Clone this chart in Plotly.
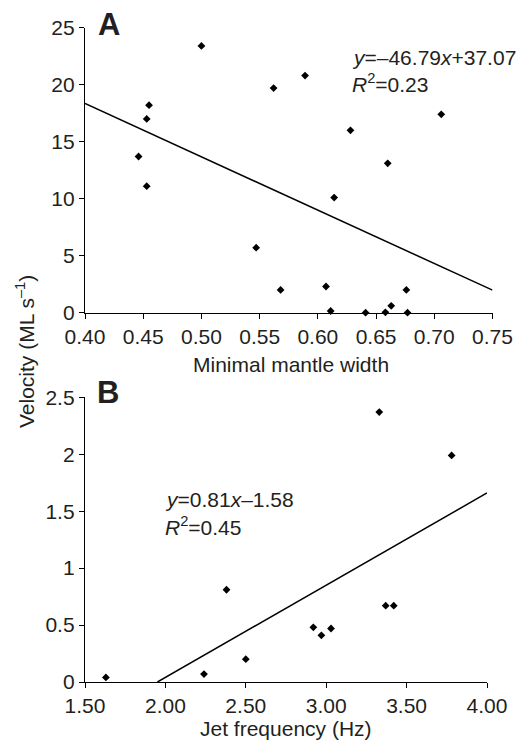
import plotly.graph_objects as go

# ---- Panel A: minimal mantle width vs. swimming velocity ----
mantle_width = [0.446, 0.453, 0.455, 0.453, 0.500, 0.547, 0.562, 0.568, 0.589, 0.607,
                0.611, 0.614, 0.628, 0.660, 0.706, 0.641, 0.658, 0.663, 0.676, 0.677]
velocity_a = [13.7, 17.0, 18.2, 11.1, 23.4, 5.7, 19.7, 2.0, 20.8, 2.3,
              0.15, 10.1, 16.0, 13.1, 17.4, 0.0, 0.03, 0.6, 2.0, 0.0]
slope_a, intercept_a, r2_a = -46.79, 37.07, 0.23

# ---- Panel B: jet frequency vs. swimming velocity ----
jet_freq = [1.63, 2.24, 2.38, 2.50, 2.92, 2.97, 3.03, 3.33, 3.37, 3.42, 3.78]
velocity_b = [0.04, 0.07, 0.81, 0.20, 0.48, 0.41, 0.47, 2.37, 0.67, 0.67, 1.99]
slope_b, intercept_b, r2_b = 0.81, -1.58, 0.45

xrange_a = [0.40, 0.75]
yrange_a = [0, 25]
xrange_b = [1.50, 4.00]
yrange_b = [0, 2.5]

W, H = 521, 740
FONT = "Liberation Sans, Arial, sans-serif"
INK = "#231f20"


def px(x):
    return x / W


def py(y):
    return 1 - y / H


def fit_line(slope, intercept, xr, yr):
    x0 = xr[0]
    if slope * x0 + intercept < yr[0]:
        x0 = (yr[0] - intercept) / slope
    x1 = xr[1]
    return [x0, x1], [slope * x0 + intercept, slope * x1 + intercept]


fig = go.Figure()

marker = dict(symbol="diamond", size=6, color="black")

fig.add_trace(go.Scatter(x=mantle_width, y=velocity_a, mode="markers", marker=marker,
                         cliponaxis=False, xaxis="x", yaxis="y", showlegend=False))
lx, ly = fit_line(slope_a, intercept_a, xrange_a, yrange_a)
fig.add_trace(go.Scatter(x=lx, y=ly, mode="lines", line=dict(color="black", width=1.5),
                         xaxis="x", yaxis="y", showlegend=False))

fig.add_trace(go.Scatter(x=jet_freq, y=velocity_b, mode="markers", marker=marker,
                         cliponaxis=False, xaxis="x2", yaxis="y2", showlegend=False))
lx, ly = fit_line(slope_b, intercept_b, xrange_b, yrange_b)
fig.add_trace(go.Scatter(x=lx, y=ly, mode="lines", line=dict(color="black", width=1.5),
                         xaxis="x2", yaxis="y2", showlegend=False))

axis_common = dict(
    showline=True, linecolor="black", linewidth=1.3,
    ticks="outside", ticklen=5, tickwidth=1.3, tickcolor="black",
    showgrid=False, zeroline=False, mirror=False, automargin=False,
    tickfont=dict(family=FONT, size=21, color=INK),
    fixedrange=True,
)

fig.update_layout(
    width=W, height=H,
    margin=dict(l=0, r=0, t=0, b=0),
    paper_bgcolor="white", plot_bgcolor="white",
    font=dict(family=FONT, size=21, color=INK),
    xaxis=dict(domain=[px(85), px(492.5)], range=xrange_a, dtick=0.05, tick0=0.40,
               tickformat=".2f", anchor="y", **axis_common),
    yaxis=dict(domain=[py(312.7), py(27.7)], range=yrange_a, dtick=5, anchor="x",
               **axis_common),
    xaxis2=dict(domain=[px(85), px(487)], range=xrange_b, dtick=0.5, tick0=1.5,
                tickformat=".2f", anchor="y2", **axis_common),
    yaxis2=dict(domain=[py(682), py(397.3)], range=yrange_b, dtick=0.5, anchor="x2",
                **axis_common),
)

annotations = [
    dict(text="<b>A</b>", x=px(96), y=py(24), xanchor="left", yanchor="middle",
         font=dict(family=FONT, size=31, color=INK)),
    dict(text="<b>B</b>", x=px(95), y=py(392), xanchor="left", yanchor="middle",
         font=dict(family=FONT, size=31, color=INK)),
    dict(text=f"<i>y</i>=–{abs(slope_a):.2f}<i>x</i>+{intercept_a:.2f}",
         x=px(350), y=py(58), xanchor="left", yanchor="middle"),
    dict(text=f"<i>R</i><sup>2</sup>={r2_a:.2f}",
         x=px(350), y=py(83), xanchor="left", yanchor="middle"),
    dict(text=f"<i>y</i>={slope_b:.2f}<i>x</i>–{abs(intercept_b):.2f}",
         x=px(163), y=py(499), xanchor="left", yanchor="middle"),
    dict(text=f"<i>R</i><sup>2</sup>={r2_b:.2f}",
         x=px(163), y=py(526), xanchor="left", yanchor="middle"),
    # axis titles
    dict(text="Minimal mantle width", x=px(291), y=py(365),
         xanchor="center", yanchor="middle"),
    dict(text="Jet frequency (Hz)", x=px(286), y=py(728),
         xanchor="center", yanchor="middle"),
    dict(text="Velocity (ML s<sup>–1</sup>)", textangle=-90,
         x=px(25), y=py(352), xanchor="center", yanchor="middle"),
]
for a in annotations:
    a.setdefault("font", dict(family=FONT, size=21, color=INK))
    fig.add_annotation(xref="paper", yref="paper", showarrow=False, **a)

fig.write_html("out.html")
